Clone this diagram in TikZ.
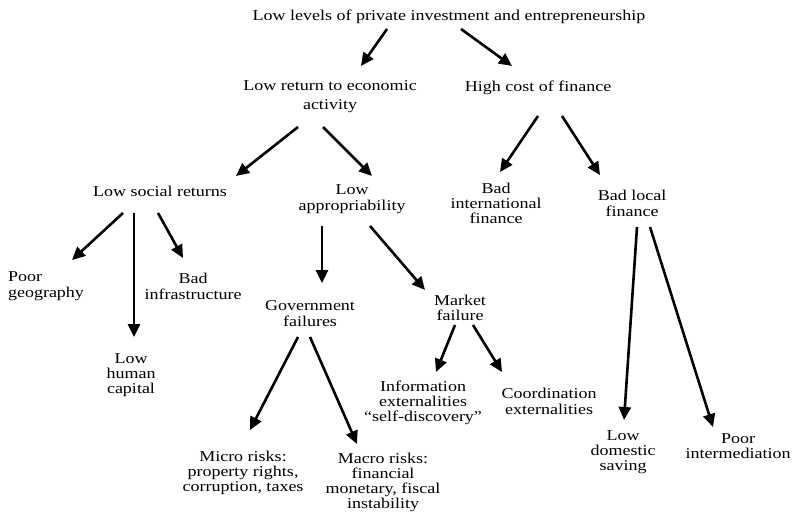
\documentclass[tikz,border=0pt]{standalone}
\usepackage{fontspec}
\setmainfont{Liberation Serif}[FakeStretch=1.2]
\usetikzlibrary{arrows.meta}

\begin{document}
\begin{tikzpicture}[x=1pt, y=-1pt,
    txt/.style={align=center, inner sep=0pt, font=\fontsize{15}{15}\selectfont},
    arr/.style={line width=2.6pt, -{Triangle[length=13pt,width=12pt]}}]
  \useasboundingbox (0,0) rectangle (792,514);

  % Ebene 1
  \node[txt] (top) at (449,17) {Low levels of private investment and entrepreneurship};

  % Ebene 2
  \node[txt, font=\fontsize{15}{19}\selectfont] (lret) at (330,97) {Low return to economic\\activity};
  \node[txt] (hcf) at (538,88) {High cost of finance};

  % Ebene 3
  \node[txt] (lsr) at (160,191) {Low social returns};
  \node[txt, font=\fontsize{15}{16}\selectfont] (lapp) at (352,199) {Low\\appropriability};
  \node[txt] (bif) at (496,203) {Bad\\international\\finance};
  \node[txt, font=\fontsize{15}{16}\selectfont] (blf) at (632,203) {Bad local\\finance};

  % Ebene 4
  \node[txt, align=left, font=\fontsize{15}{16}\selectfont] (poor) at (46,286) {Poor\\geography};
  \node[txt, font=\fontsize{15}{16}\selectfont] (binf) at (193,286) {Bad\\infrastructure};
  \node[txt] (lhc) at (131,375) {Low\\human\\capital};
  \node[txt, font=\fontsize{15}{16}\selectfont] (gov) at (310,314) {Government\\failures};
  \node[txt] (mkt) at (460,308) {Market\\failure};

  % Ebene 5
  \node[txt] (info) at (423,403) {Information\\externalities\\``self-discovery''};
  \node[txt, font=\fontsize{15}{16}\selectfont] (coord) at (549,401) {Coordination\\externalities};
  \node[txt] (micro) at (243,473) {Micro risks:\\property rights,\\corruption, taxes};
  \node[txt] (macro) at (383,482) {Macro risks:\\financial\\monetary, fiscal\\instability};
  \node[txt] (lds) at (623,452) {Low\\domestic\\saving};
  \node[txt] (pint) at (738,446) {Poor\\intermediation};

  % Pfeile oben
  \draw[arr] ([shift={(-62,12)}]top.center) -- ([shift={(31,-31)}]lret.center);
  \draw[arr] ([shift={(12,12)}]top.center) -- ([shift={(-26,-22)}]hcf.center);

  % Pfeile Ertrag und Finanzierung
  \draw[arr] ([shift={(-32,30)}]lret.center) -- ([shift={(76,-15)}]lsr.center);
  \draw[arr] ([shift={(-7,30)}]lret.center) -- ([shift={(20,-23)}]lapp.center);
  \draw[arr] ([shift={(0,28)}]hcf.center) -- ([shift={(4,-31)}]bif.center);
  \draw[arr] ([shift={(24,28)}]hcf.center) -- ([shift={(-32,-28)}]blf.center);

  % Pfeile soziale Ertraege
  \draw[arr] ([shift={(-37,22)}]lsr.center) -- ([shift={(26,-26)}]poor.center);
  \draw[arr] ([shift={(-26,22)}]lsr.center) -- ([shift={(3,-38)}]lhc.center);
  \draw[arr] ([shift={(-2,22)}]lsr.center) -- ([shift={(-10,-28)}]binf.center);

  % Pfeile Aneignung
  \draw[arr] ([shift={(-30,27)}]lapp.center) -- ([shift={(12,-31)}]gov.center);
  \draw[arr] ([shift={(18,27)}]lapp.center) -- ([shift={(-35,-18)}]mkt.center);
  \draw[arr] ([shift={(-12,23)}]gov.center) -- ([shift={(7,-43)}]micro.center);
  \draw[arr] ([shift={(0,23)}]gov.center) -- ([shift={(-26,-38)}]macro.center);
  \draw[arr] ([shift={(-5,17)}]mkt.center) -- ([shift={(13,-31)}]info.center);
  \draw[arr] ([shift={(13,17)}]mkt.center) -- ([shift={(-47,-29)}]coord.center);

  % Pfeile lokale Finanzierung
  \draw[arr] ([shift={(5,24)}]blf.center) -- ([shift={(1,-32)}]lds.center);
  \draw[arr] ([shift={(18,24)}]blf.center) -- ([shift={(-25,-19)}]pint.center);
\end{tikzpicture}
\end{document}
